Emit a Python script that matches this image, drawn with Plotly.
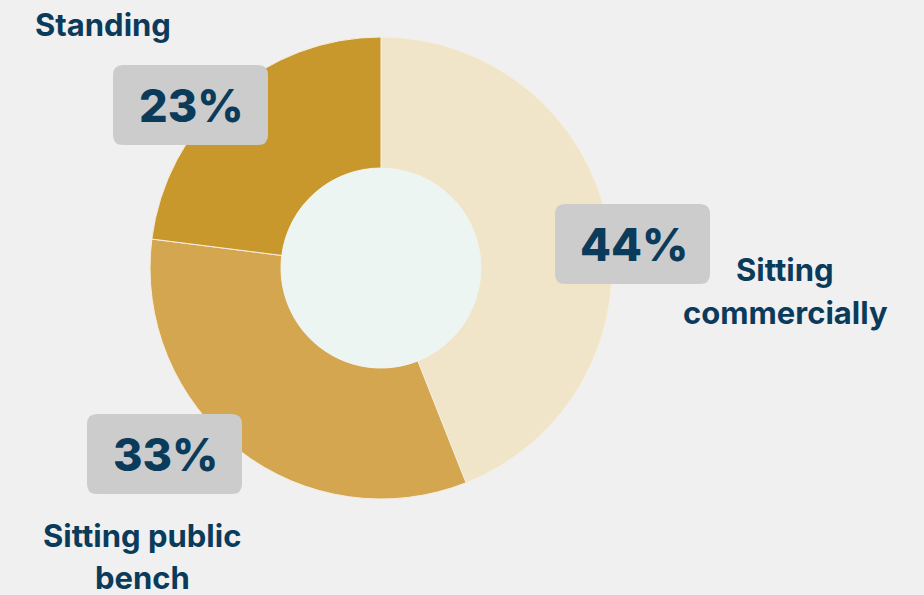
import plotly.graph_objects as go

labels = ["Sitting commercially", "Sitting public bench", "Standing"]
values = [44, 33, 23]
colors = ["#f0e4c9", "#d4a650", "#c9982d"]
label_lines = [["Sitting", "commercially"], ["Sitting public", "bench"], ["Standing"]]

W, H = 924, 595
NAVY = "#0b3b5b"
FONT = "Inter"

# pie geometry in pixels
cx, cy, R, r_hole = 381, 268, 231, 100

def px(x):
    return x / W

def py(y):
    return 1 - y / H

fig = go.Figure(go.Pie(
    labels=labels, values=values,
    marker=dict(colors=colors, line=dict(color="#f6efe2", width=1)),
    hole=r_hole / R,
    sort=False, direction="clockwise", rotation=0,
    textinfo="none", hoverinfo="label+percent",
    domain=dict(x=[px(cx - R), px(cx + R)], y=[py(cy + R), py(cy - R)]),
))

def rounded_rect(x0, y0, x1, y1, rad=10):
    # path in paper coords, corners given in pixels
    def p(x, y):
        return f"{px(x)},{py(y)}"
    return " ".join([
        f"M {p(x0 + rad, y0)}", f"L {p(x1 - rad, y0)}",
        f"Q {p(x1, y0)} {p(x1, y0 + rad)}", f"L {p(x1, y1 - rad)}",
        f"Q {p(x1, y1)} {p(x1 - rad, y1)}", f"L {p(x0 + rad, y1)}",
        f"Q {p(x0, y1)} {p(x0, y1 - rad)}", f"L {p(x0, y0 + rad)}",
        f"Q {p(x0, y0)} {p(x0 + rad, y0)} Z",
    ])

# box top-left corners (px) and label centre (px) per slice
box_pos = [(555, 204), (87, 414), (113, 65)]
label_pos = [(785, 270), (142, 535), (103, 25)]
bw, bh = 155, 80

shapes = [dict(type="circle", xref="paper", yref="paper",
               x0=px(cx - r_hole), x1=px(cx + r_hole),
               y0=py(cy + r_hole), y1=py(cy - r_hole),
               fillcolor="#edf5f3", line=dict(width=0), layer="above")]
annotations = []
for v, lines, (bx, by), (lx, ly) in zip(values, label_lines, box_pos, label_pos):
    shapes.append(dict(type="path", xref="paper", yref="paper",
                       path=rounded_rect(bx, by, bx + bw, by + bh),
                       fillcolor="#cccccc", line=dict(width=0), layer="above"))
    annotations.append(dict(x=px(bx + bw / 2 + 1), y=py(by + bh / 2),
                            xref="paper", yref="paper", showarrow=False,
                            text=f"{v}%",
                            font=dict(family=FONT, size=45, color=NAVY, weight=800),
                            xanchor="center", yanchor="middle"))
    for i, line in enumerate(lines):
        annotations.append(dict(x=px(lx), y=py(ly + i * 42),
                                xref="paper", yref="paper", showarrow=False,
                                text=line,
                                font=dict(family=FONT, size=31, color=NAVY, weight=700),
                                xanchor="center", yanchor="middle"))

fig.update_layout(
    width=W, height=H,
    margin=dict(l=0, r=0, t=0, b=0),
    paper_bgcolor="#f0f0f0", plot_bgcolor="#f0f0f0",
    showlegend=False,
    shapes=shapes, annotations=annotations,
)

fig.write_html("out.html", config={"displayModeBar": False},
               post_script="document.body.style.margin='0';")
